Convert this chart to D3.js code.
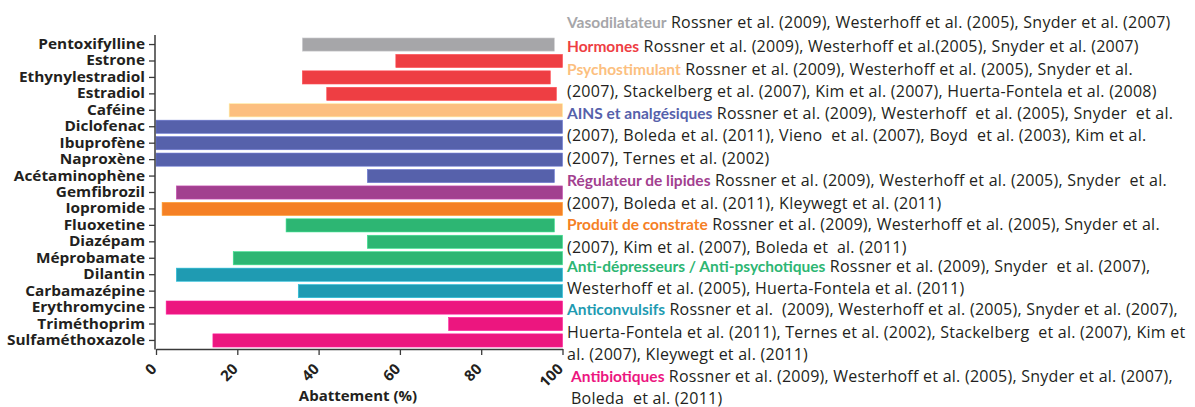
<!DOCTYPE html>
<html lang="fr">
<head>
  <meta charset="UTF-8">
  <title>Abattement des produits pharmaceutiques</title>
  <script src="https://d3js.org/d3.v7.min.js"></script>
  <style>
    html, body { margin: 0; padding: 0; background: #fff; }
    svg { display: block; }
    .drug-label { font-family: "Open Sans", sans-serif; font-weight: bold; font-size: 14px; fill: #231f20; }
    .tick-label { font-family: "Open Sans", sans-serif; font-weight: bold; font-size: 15px; fill: #231f20; }
    .axis-title { font-family: "Open Sans", sans-serif; font-weight: bold; font-size: 15px; fill: #231f20; }
    .ref { font-family: "Open Sans", sans-serif; font-size: 16px; letter-spacing: 0.25px; fill: #231f20; white-space: pre; }
    .ref .head { font-family: Lato, sans-serif; font-weight: bold; font-size: 15.5px; letter-spacing: 0; }
  </style>
</head>
<body>
<svg width="1195" height="407"></svg>
<script>
// molecules, de haut en bas
const drugs = ["Pentoxifylline", "Estrone", "Ethynylestradiol", "Estradiol", "Caféine",
  "Diclofenac", "Ibuprofène", "Naproxène", "Acétaminophène", "Gemfibrozil", "Iopromide",
  "Fluoxetine", "Diazépam", "Méprobamate", "Dilantin", "Carbamazépine",
  "Erythromycine", "Triméthoprim", "Sulfaméthoxazole"];
// abattement min / max (%)
const abatMin = [36, 59, 36, 42, 18, 0, 0, 0, 52, 5, 1.5, 32, 52, 19, 5, 35, 2.5, 72, 14];
const abatMax = [98, 100, 97, 98.5, 100, 100, 100, 100, 98, 100, 100, 98, 100, 100, 100, 100, 100, 100, 100];
// classe de chaque molecule (index dans classes)
const drugClass = [0, 1, 1, 1, 2, 3, 3, 3, 3, 4, 5, 6, 6, 6, 7, 7, 8, 8, 8];

const classes = ["Vasodilatateur", "Hormones", "Psychostimulant", "AINS et analgésiques",
  "Régulateur de lipides", "Produit de constrate", "Anti-dépresseurs / Anti-psychotiques",
  "Anticonvulsifs", "Antibiotiques"];
const classColors = ["#a6a6a9", "#ee3e43", "#fcbf80", "#5661ab", "#a2408f", "#f58025",
  "#2db673", "#1f9bb2", "#ec167f"];
const classRefs = [
  ["Rossner et al. (2009), Westerhoff et al. (2005), Snyder et al. (2007)"],
  ["Rossner et al. (2009), Westerhoff et al.(2005), Snyder et al. (2007)"],
  ["Rossner et al. (2009), Westerhoff et al. (2005), Snyder et al.",
   "(2007), Stackelberg et al. (2007), Kim et al. (2007), Huerta-Fontela et al. (2008)"],
  ["Rossner et al. (2009), Westerhoff  et al. (2005), Snyder  et al.",
   "(2007), Boleda et al. (2011), Vieno  et al. (2007), Boyd  et al. (2003), Kim et al.",
   "(2007), Ternes et al. (2002)"],
  ["Rossner et al. (2009), Westerhoff et al. (2005), Snyder  et al.",
   "(2007), Boleda et al. (2011), Kleywegt et al. (2011)"],
  ["Rossner et al. (2009), Westerhoff et al. (2005), Snyder et al.",
   "(2007), Kim et al. (2007), Boleda et  al. (2011)"],
  ["Rossner et al. (2009), Snyder  et al. (2007),",
   "Westerhoff et al. (2005), Huerta-Fontela et al. (2011)"],
  ["Rossner et al.  (2009), Westerhoff et al. (2005), Snyder et al. (2007),",
   "Huerta-Fontela et al. (2011), Ternes et al. (2002), Stackelberg  et al. (2007), Kim et",
   "al. (2007), Kleywegt et al. (2011)"],
  ["Rossner et al. (2009), Westerhoff et al. (2005), Snyder et al. (2007),",
   "Boleda  et al. (2011)"]
];
const xTicks = [0, 20, 40, 60, 80, 100];

const svg = d3.select("svg");
const axisColor = "#3a3a3a";

const x = d3.scaleLinear().domain([0, 100]).range([156, 562.5]);
const y = d3.scaleBand().domain(drugs).range([36, 349]).paddingInner(0.2).paddingOuter(0.12);

// barres flottantes
svg.append("g").selectAll("rect")
  .data(drugs)
  .join("rect")
  .attr("x", (d, i) => x(abatMin[i]))
  .attr("y", d => y(d))
  .attr("width", (d, i) => x(abatMax[i]) - x(abatMin[i]))
  .attr("height", y.bandwidth())
  .attr("fill", (d, i) => classColors[drugClass[i]])
  .attr("stroke", (d, i) => d3.color(classColors[drugClass[i]]).brighter(0.6))
  .attr("stroke-width", 0.6);

// axe y
const yAxis = svg.append("g")
  .attr("transform", "translate(155,0)")
  .call(d3.axisLeft(y).tickSize(6).tickPadding(4));
yAxis.select(".domain").attr("stroke", axisColor).attr("stroke-width", 1.5)
  .attr("d", "M0,35V349.5");
yAxis.selectAll(".tick line").attr("stroke", axisColor).attr("stroke-width", 1.3);
yAxis.selectAll(".tick text")
  .attr("class", "drug-label")
  .attr("font-family", null).attr("font-size", null)
  .attr("x", 0)
  .attr("transform", "translate(-10,0) scale(1.1,1)");

// axe x
const xAxis = svg.append("g")
  .attr("transform", "translate(0,349)")
  .call(d3.axisBottom(x).tickValues(xTicks).tickSize(6).tickSizeOuter(0));
xAxis.select(".domain").attr("stroke", axisColor).attr("stroke-width", 1.5);
xAxis.selectAll(".tick line").attr("stroke", axisColor).attr("stroke-width", 1.3);
xAxis.selectAll(".tick text")
  .attr("class", "tick-label")
  .attr("font-family", null).attr("font-size", null)
  .attr("text-anchor", "end")
  .attr("x", 0).attr("y", 0).attr("dy", 0)
  .attr("transform", "translate(1,21) rotate(-45)");

svg.append("text")
  .attr("class", "axis-title")
  .attr("x", 358).attr("y", 401)
  .attr("text-anchor", "middle")
  .text("Abattement (%)");

// references par classe
const baselines = [28, 52, 75, 97, 118.5, 141, 164, 185.5, 209, 230, 253, 272, 294, 315, 338, 360, 382, 403.5];
let li = 0;
classes.forEach((c, ci) => {
  classRefs[ci].forEach((line, k) => {
    const t = svg.append("text")
      .attr("class", "ref")
      .attr("x", ci === 8 ? 571 : 567)
      .attr("y", baselines[li++]);
    if (k === 0) {
      t.append("tspan").attr("class", "head").attr("fill", classColors[ci]).text(c);
      t.append("tspan").text(" " + line);
    } else {
      t.text(line);
    }
  });
});
</script>
</body>
</html>
